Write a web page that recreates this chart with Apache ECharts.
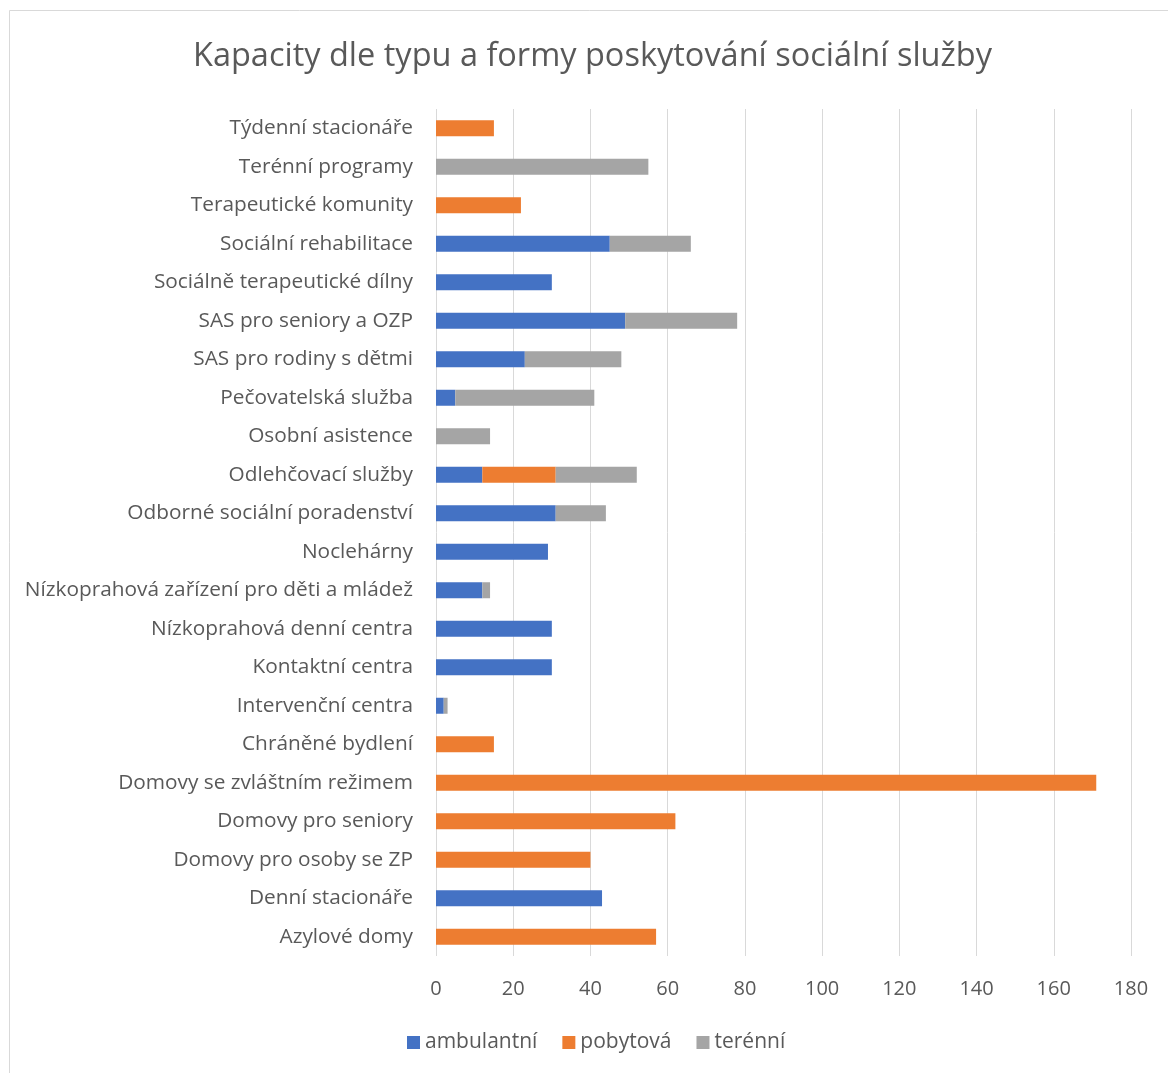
<!DOCTYPE html>
<html><head><meta charset="utf-8">
<script src="https://cdn.jsdelivr.net/npm/echarts@6/dist/echarts.min.js"></script>
<style>html,body{margin:0;padding:0;background:#fff}#c{width:1168px;height:1073px}</style>
</head><body><div id="c"></div>
<script>
const categories = ["Azylové domy","Denní stacionáře","Domovy pro osoby se ZP","Domovy pro seniory","Domovy se zvláštním režimem","Chráněné bydlení","Intervenční centra","Kontaktní centra","Nízkoprahová denní centra","Nízkoprahová zařízení pro děti a mládež","Noclehárny","Odborné sociální poradenství","Odlehčovací služby","Osobní asistence","Pečovatelská služba","SAS pro rodiny s dětmi","SAS pro seniory a OZP","Sociálně terapeutické dílny","Sociální rehabilitace","Terapeutické komunity","Terénní programy","Týdenní stacionáře"];
const ambulantni = [null,43,null,null,null,null,2,30,30,12,29,31,12,null,5,23,49,30,45,null,null,null];
const pobytova   = [57,null,40,62,171,15,null,null,null,null,null,null,19,null,null,null,null,null,null,22,null,15];
const terenni    = [null,null,null,null,null,null,1,null,null,2,null,13,21,14,36,25,29,null,21,null,55,null];
const xTicks = [0,20,40,60,80,100,120,140,160,180];

const FONT = "'Open Sans', 'Noto Sans', sans-serif";
const TXT = '#595959';
const chart = echarts.init(document.getElementById('c'), null, {renderer:'canvas'});
const mk = (name, data, color) => ({name, type:'bar', stack:'s', data, barWidth:16, itemStyle:{color}});
chart.setOption({
  animation:false,
  backgroundColor:'#fff',
  graphic:[{type:'rect', shape:{x:9.5,y:10.5,width:1200,height:1100}, style:{fill:'none', stroke:'#d9d9d9', lineWidth:1}, z:-1}],
  title:{text:'Kapacity dle typu a formy poskytování sociální služby', left:188, top:35,
    textStyle:{fontFamily:FONT, fontSize:32.5, fontWeight:'normal', color:TXT}},
  legend:{bottom:15, left:402, itemWidth:13, itemHeight:13, itemGap:25, icon:'rect',
    textStyle:{fontFamily:FONT, fontSize:21, color:TXT}},
  grid:{left:436, right:37, top:109, bottom:117, containLabel:false},
  xAxis:{type:'value', min:xTicks[0], max:xTicks[xTicks.length-1], interval:20,
    axisLine:{show:false}, axisTick:{show:false},
    axisLabel:{fontFamily:FONT, fontSize:20, color:TXT, margin:23},
    splitLine:{show:true, lineStyle:{color:'#d9d9d9', width:1}}},
  yAxis:{type:'category', data:categories,
    axisLine:{show:false}, axisTick:{show:false},
    axisLabel:{fontFamily:FONT, fontSize:20.8, color:TXT, margin:23}},
  series:[mk('ambulantní', ambulantni, '#4472C4'), mk('pobytová', pobytova, '#ED7D31'), mk('terénní', terenni, '#A5A5A5')]
});
</script></body></html>
